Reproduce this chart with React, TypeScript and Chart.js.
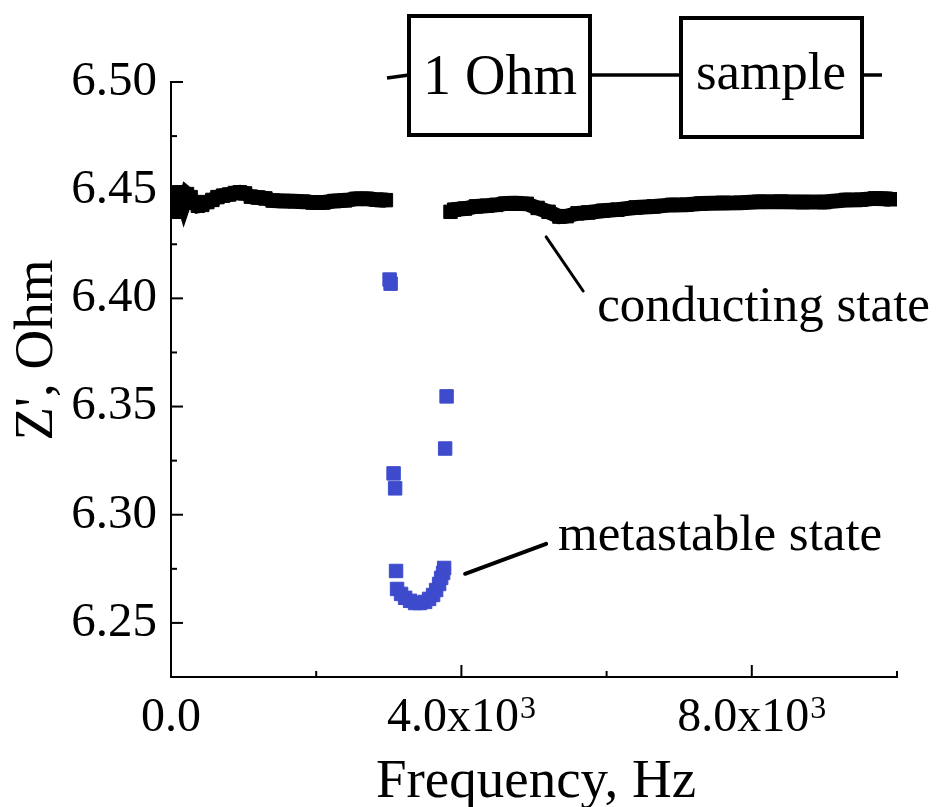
import React, { useEffect, useRef } from 'react';
import { Chart, registerables } from 'chart.js';

Chart.register(...registerables);

// ---- data ----
const conductingFreqA = [25, 50, 75, 100, 140, 180, 220, 270, 320, 370, 430, 500, 570, 640, 720, 800, 880, 950, 1020, 1100, 1200, 1300, 1400, 1550, 1700, 1820, 1950, 2100, 2250, 2400, 2550, 2700, 2830, 2900, 2960];
const conductingZA = [6.4405, 6.4490, 6.4400, 6.4485, 6.4488, 6.4442, 6.4482, 6.4468, 6.4445, 6.4428, 6.4432, 6.4445, 6.4455, 6.4468, 6.4475, 6.4480, 6.4487, 6.4490, 6.4485, 6.4470, 6.4466, 6.4462, 6.4452, 6.4450, 6.4449, 6.4447, 6.4443, 6.4443, 6.4450, 6.4453, 6.4460, 6.4460, 6.4456, 6.4455, 6.4454];

const conductingFreqB = [3850, 3900, 4050, 4200, 4350, 4480, 4600, 4750, 4900, 5050, 5200, 5350, 5450, 5600, 5750, 5950, 6150, 6400, 6650, 6900, 7100, 7300, 7600, 7850, 8100, 8400, 8700, 9000, 9300, 9500, 9700, 9850, 9910];
const conductingZB = [6.4400, 6.4410, 6.4415, 6.4425, 6.4428, 6.4432, 6.4438, 6.4440, 6.4437, 6.4418, 6.4400, 6.4378, 6.4380, 6.4393, 6.4397, 6.4405, 6.4410, 6.4420, 6.4425, 6.4432, 6.4433, 6.4438, 6.4441, 6.4442, 6.4446, 6.4447, 6.4445, 6.4445, 6.4455, 6.4456, 6.4462, 6.4460, 6.4458];

const metastableFreq = [3011, 3025, 3796, 3776, 3066, 3087, 3100, 3114, 3169, 3225, 3293, 3362, 3431, 3500, 3555, 3610, 3652, 3693, 3721, 3748, 3762];
const metastableZ = [6.4087, 6.4068, 6.3547, 6.3306, 6.3191, 6.3122, 6.2740, 6.2657, 6.2634, 6.2616, 6.2602, 6.2592, 6.2592, 6.2597, 6.2611, 6.2629, 6.2652, 6.2680, 6.2708, 6.2731, 6.2754];

const xTickValues = [0, 4000, 8000];
const xTickMantissa = ['0.0', '4.0x10', '8.0x10'];
const xTickExponent = ['', '3', '3'];
const yTickValues = [6.25, 6.3, 6.35, 6.4, 6.45, 6.5];
const yTickLabels = ['6.25', '6.30', '6.35', '6.40', '6.45', '6.50'];

const xTitle = 'Frequency, Hz';
const yTitle = "Z', Ohm";
const conductingLabel = 'conducting state';
const metastableLabel = 'metastable state';
const resistorLabel = '1 Ohm';
const sampleLabel = 'sample';

const FONT = '"Liberation Serif", "Times New Roman", serif';
const BLUE = '#3d4bcc';

export default function App() {
  const ref = useRef<HTMLCanvasElement>(null);

  useEffect(() => {
    document.body.style.margin = '0';
    const canvas = ref.current;
    if (!canvas) return;
    const toPts = (xs: number[], ys: number[]) => xs.map((x, i) => ({ x, y: ys[i] }));

    const decor = {
      id: 'decor',
      afterDraw(chart: any) {
        const ctx = chart.ctx as CanvasRenderingContext2D;
        const xs = chart.scales.x;
        const ys = chart.scales.y;
        const area = chart.chartArea;
        ctx.save();
        // inward ticks
        ctx.strokeStyle = '#000';
        ctx.lineWidth = 2;
        ys.ticks.forEach((t: any) => {
          const v = t.value;
          if (v < 6.23) return;
          const major = yTickValues.some((m) => Math.abs(m - v) < 1e-6);
          const py = ys.getPixelForValue(v);
          ctx.beginPath();
          ctx.moveTo(area.left, py);
          ctx.lineTo(area.left + (major ? 12 : 6), py);
          ctx.stroke();
        });
        xs.ticks.forEach((t: any) => {
          const v = t.value;
          if (v <= 0) return;
          const major = xTickValues.includes(v);
          const px = xs.getPixelForValue(v);
          ctx.beginPath();
          ctx.moveTo(px, area.bottom);
          ctx.lineTo(px, area.bottom - (major ? 12 : 6));
          ctx.stroke();
        });

        // x tick labels with superscript exponent
        ctx.fillStyle = '#000';
        ctx.textBaseline = 'alphabetic';
        ctx.textAlign = 'left';
        xTickValues.forEach((v, i) => {
          const px = xs.getPixelForValue(v);
          ctx.font = `48px ${FONT}`;
          const wm = ctx.measureText(xTickMantissa[i]).width;
          ctx.font = `32px ${FONT}`;
          const we = xTickExponent[i] ? ctx.measureText(xTickExponent[i]).width + 1 : 0;
          const x0 = px - (wm + we) / 2;
          ctx.font = `48px ${FONT}`;
          ctx.fillText(xTickMantissa[i], x0, area.bottom + 54);
          if (xTickExponent[i]) {
            ctx.font = `32px ${FONT}`;
            ctx.fillText(xTickExponent[i], x0 + wm + 1, area.bottom + 41);
          }
        });

        // axis titles
        ctx.font = `55px ${FONT}`;
        ctx.textAlign = 'center';
        ctx.fillText(xTitle, (area.left + area.right) / 2 + 2, 797);
        ctx.save();
        ctx.translate(52, 350);
        ctx.rotate(-Math.PI / 2);
        ctx.fillText(yTitle, 0, 0);
        ctx.restore();

        // annotations
        const P = (xv: number, yv: number) => [xs.getPixelForValue(xv), ys.getPixelForValue(yv)];
        ctx.lineCap = 'round';
        ctx.lineWidth = 3;
        let a = P(5167, 6.4284), b = P(5677, 6.4034);
        ctx.beginPath(); ctx.moveTo(a[0], a[1]); ctx.lineTo(b[0], b[1]); ctx.stroke();
        ctx.lineWidth = 4;
        a = P(4051, 6.2727); b = P(5167, 6.2865);
        ctx.beginPath(); ctx.moveTo(a[0], a[1]); ctx.lineTo(b[0], b[1]); ctx.stroke();
        ctx.font = `51px ${FONT}`;
        ctx.textAlign = 'left';
        let t = P(5870, 6.3895);
        ctx.fillText(conductingLabel, t[0], t[1]);
        t = P(5330, 6.2837);
        ctx.fillText(metastableLabel, t[0], t[1]);

        // circuit diagram
        ctx.lineWidth = 4;
        ctx.lineCap = 'butt';
        ctx.strokeRect(409, 16, 181, 119);
        ctx.strokeRect(681, 18, 181, 119);
        ctx.lineWidth = 3.5;
        ctx.beginPath(); ctx.moveTo(387, 78); ctx.lineTo(409, 75); ctx.stroke();
        ctx.beginPath(); ctx.moveTo(590, 75); ctx.lineTo(681, 75); ctx.stroke();
        ctx.beginPath(); ctx.moveTo(862, 75); ctx.lineTo(882, 75); ctx.stroke();
        ctx.textAlign = 'center';
        ctx.font = `56px ${FONT}`;
        ctx.fillText(resistorLabel, 500, 94);
        ctx.font = `53px ${FONT}`;
        ctx.fillText(sampleLabel, 771, 89);
        ctx.restore();
      },
    };

    const blackDs = (xs: number[], ys: number[]) => ({
      data: toPts(xs, ys),
      showLine: true,
      borderColor: '#000',
      backgroundColor: '#000',
      borderWidth: 15,
      borderJoinStyle: 'miter',
      pointStyle: 'rect',
      pointRadius: 9.5,
      pointBorderWidth: 1,
      pointBackgroundColor: '#000',
      pointBorderColor: '#000',
      clip: 0,
    });

    const chart = new Chart(canvas, {
      type: 'scatter',
      data: {
        datasets: [
          blackDs(conductingFreqA, conductingZA),
          blackDs(conductingFreqB, conductingZB),
          {
            data: toPts(metastableFreq, metastableZ),
            showLine: false,
            pointStyle: 'rect',
            pointRadius: 9.5,
            pointBorderWidth: 1,
            pointBackgroundColor: BLUE,
            pointBorderColor: BLUE,
            backgroundColor: BLUE,
            borderColor: BLUE,
            clip: 0,
          } as any,
        ],
      },
      options: {
        animation: false,
        responsive: false,
        devicePixelRatio: 1,
        layout: { padding: { left: 0, right: 40, top: 82, bottom: 0 } },
        plugins: { legend: { display: false }, tooltip: { enabled: false }, title: { display: false } },
        scales: {
          x: {
            type: 'linear',
            min: 0,
            max: 10000,
            afterFit: (s: any) => { s.height = 130; },
            grid: { display: false, drawTicks: false },
            border: { display: true, color: '#000', width: 2 },
            ticks: {
              stepSize: 2000,
              autoSkip: false,
              maxRotation: 0,
              minRotation: 0,
              padding: 8,
              color: '#000',
              font: { family: FONT, size: 48 },
              callback: () => '',
            },
          },
          y: {
            type: 'linear',
            min: 6.225,
            max: 6.5,
            afterFit: (s: any) => { s.width = 171; },
            grid: { display: false, drawTicks: false },
            border: { display: true, color: '#000', width: 2 },
            ticks: {
              stepSize: 0.025,
              autoSkip: false,
              padding: 14,
              color: '#000',
              font: { family: FONT, size: 49 },
              callback: (v: any) => {
                const i = yTickValues.findIndex((m) => Math.abs(m - Number(v)) < 1e-6);
                return i >= 0 ? yTickLabels[i] : '';
              },
            },
          },
        },
      } as any,
      plugins: [decor],
    });
    return () => chart.destroy();
  }, []);

  return (
    <div style={{ width: 937, height: 807, background: '#fff' }}>
      <canvas ref={ref} width={937} height={807} style={{ display: 'block' }} />
    </div>
  );
}
